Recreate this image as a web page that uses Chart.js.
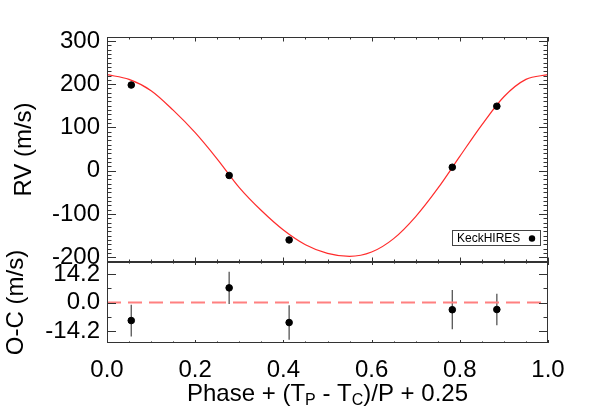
<!doctype html>
<html lang="en">
<head>
<meta charset="UTF-8">
<title>RV phase curve</title>
<script src="https://cdn.jsdelivr.net/npm/chart.js"></script>
<style>
  html, body { margin: 0; padding: 0; background: #fff; }
  .wrap { position: relative; width: 592px; height: 411px; }
  .wrap canvas { position: absolute; left: 0; top: 0; }
</style>
</head>
<body>
<div class="wrap">
  <canvas id="rv" width="592" height="411"></canvas>
  <canvas id="oc" width="592" height="411"></canvas>
</div>
<script>
// data
const seriesName = 'KeckHIRES';
const phase = [0.055, 0.277, 0.413, 0.783, 0.884];
const rv = [198, -11, -160, 8, 149];
const resid = [-9.0, 7.3, -10.0, -3.6, -3.5];
const residErr = [7.9, 8.0, 8.6, 9.8, 7.9];

// fitted orbit, read at every 0.05 in phase
const curvePhase = [0, 0.05, 0.10, 0.15, 0.20, 0.25, 0.30, 0.35, 0.40, 0.45, 0.50,
                    0.55, 0.60, 0.65, 0.70, 0.75, 0.80, 0.85, 0.90, 0.95, 1.0];
const curveRV = [222, 211, 185, 140, 88, 27, -39, -92, -137, -171, -191,
                 -198, -188, -157, -106, -41, 33, 106, 171, 211, 222];

const phaseTicks = [0.0, 0.2, 0.4, 0.6, 0.8, 1.0];
const rvTicks = [-200, -100, 0, 100, 200, 300];
const ocTicks = [-14.2, 0.0, 14.2];

const FONT = "'Liberation Sans', Arial, sans-serif";
const tickFont = { family: FONT, size: 24 };

// IDL-style box with inward tick marks
function boxTicks(o) {
  return {
    id: 'boxTicks',
    afterDraw(chart) {
      const { ctx, chartArea: a } = chart;
      const x = chart.scales.x, y = chart.scales.y;
      const L = Math.round(a.left), R = Math.round(a.right);
      const T = Math.round(a.top), B = Math.round(a.bottom);
      ctx.save();
      ctx.fillStyle = '#333';
      ctx.fillRect(L, T, R - L, 1);
      ctx.fillRect(L, B - 1, R - L, 1);
      ctx.fillRect(L, T, 1, B - T);
      ctx.fillRect(R - 1, T, 1, B - T);
      for (let i = 0; i <= 20; i++) {
        const px = Math.round(x.getPixelForValue(i * 0.05));
        const len = i % 4 === 0 ? o.xMajor : o.xMinor;
        ctx.fillRect(px, T, 1, len);
        ctx.fillRect(px, B - len, 1, len);
      }
      o.yTicks.forEach((v, i) => {
        const py = Math.round(y.getPixelForValue(v));
        const len = o.isMajor(v, i) ? o.yMajor : o.yMinor;
        ctx.fillRect(L, py, len, 1);
        ctx.fillRect(R - len, py, len, 1);
      });
      ctx.restore();
    }
  };
}

const rvMinor = [];
for (let v = -210; v <= 300; v += 10) rvMinor.push(v);

const legendBox = {
  id: 'legendBox',
  afterDraw(chart) {
    const ctx = chart.ctx;
    ctx.save();
    ctx.strokeStyle = '#444';
    ctx.lineWidth = 1;
    ctx.strokeRect(452.5, 230.5, 88, 15);
    ctx.fillStyle = '#000';
    ctx.font = '12px ' + FONT;
    ctx.textBaseline = 'middle';
    ctx.fillText(seriesName, 457, 238.5);
    ctx.beginPath();
    ctx.arc(532, 238.5, 3.2, 0, Math.PI * 2);
    ctx.fill();
    ctx.restore();
  }
};

new Chart(document.getElementById('rv'), {
  type: 'scatter',
  data: {
    datasets: [{
      type: 'line',
      data: curvePhase.map((p, i) => ({ x: p, y: curveRV[i] })),
      borderColor: 'rgba(255,20,20,0.9)',
      borderWidth: 1.2,
      pointRadius: 0,
      cubicInterpolationMode: 'monotone',
      order: 2
    }, {
      label: seriesName,
      data: phase.map((p, i) => ({ x: p, y: rv[i] })),
      backgroundColor: '#000',
      borderColor: '#000',
      pointRadius: 3.3,
      order: 1
    }]
  },
  options: {
    responsive: false,
    animation: false,
    layout: { padding: { left: 0, right: 44, top: 37, bottom: 149 } },
    plugins: { legend: { display: false }, tooltip: { enabled: false } },
    scales: {
      x: { type: 'linear', min: 0, max: 1, display: false },
      y: {
        min: -211, max: 309,
        grid: { display: false, drawTicks: false },
        border: { display: false },
        afterBuildTicks: s => { s.ticks = rvTicks.map(v => ({ value: v })); },
        ticks: { font: tickFont, color: '#000', padding: 7 },
        afterFit: s => { s.width = 107; }
      }
    }
  },
  plugins: [boxTicks({
    xMajor: 4.5, xMinor: 2.5, yMajor: 9, yMinor: 4.5,
    yTicks: rvMinor, isMajor: v => v % 100 === 0
  }), legendBox]
});

const errorBars = {
  id: 'errorBars',
  beforeDatasetsDraw(chart) {
    const { ctx, scales: { x, y } } = chart;
    ctx.save();
    ctx.strokeStyle = '#555';
    ctx.lineWidth = 1.3;
    ctx.beginPath();
    phase.forEach((p, i) => {
      const px = x.getPixelForValue(p);
      ctx.moveTo(px, y.getPixelForValue(resid[i] + residErr[i]));
      ctx.lineTo(px, y.getPixelForValue(resid[i] - residErr[i]));
    });
    ctx.stroke();
    ctx.restore();
  }
};

const titles = {
  id: 'titles',
  afterDraw(chart) {
    const ctx = chart.ctx;
    ctx.save();
    ctx.fillStyle = '#000';
    ctx.font = '24px ' + FONT;
    ctx.textAlign = 'center';
    ctx.textBaseline = 'middle';
    [['RV (m/s)', 24, 149.5], ['O-C (m/s)', 16, 302.5]].forEach(([t, cx, cy]) => {
      ctx.save();
      ctx.translate(cx, cy);
      ctx.rotate(-Math.PI / 2);
      ctx.fillText(t, 0, 0);
      ctx.restore();
    });
    // x title with subscripts
    const parts = [['Phase + (T', 0], ['P', 1], [' - T', 0], ['C', 1], [')/P + 0.25', 0]];
    const big = '24px ' + FONT, small = '16px ' + FONT;
    let w = 0;
    parts.forEach(([t, sub]) => { ctx.font = sub ? small : big; w += ctx.measureText(t).width; });
    let xx = (chart.chartArea.left + chart.chartArea.right) / 2 - w / 2;
    ctx.textAlign = 'left';
    ctx.textBaseline = 'alphabetic';
    parts.forEach(([t, sub]) => {
      ctx.font = sub ? small : big;
      ctx.fillText(t, xx, sub ? 405 : 401);
      xx += ctx.measureText(t).width;
    });
    ctx.restore();
  }
};

new Chart(document.getElementById('oc'), {
  type: 'scatter',
  data: {
    datasets: [{
      type: 'line',
      data: [{ x: 0, y: 0 }, { x: 1, y: 0 }],
      borderColor: '#ff8080',
      borderWidth: 2,
      borderDash: [14, 7],
      pointRadius: 0,
      order: 2
    }, {
      data: phase.map((p, i) => ({ x: p, y: resid[i] })),
      backgroundColor: '#000',
      borderColor: '#000',
      pointRadius: 3.3,
      order: 1
    }]
  },
  options: {
    responsive: false,
    animation: false,
    layout: { padding: { left: 0, right: 44, top: 262, bottom: 0 } },
    plugins: { legend: { display: false }, tooltip: { enabled: false } },
    scales: {
      x: {
        type: 'linear', min: 0, max: 1,
        grid: { display: false, drawTicks: false },
        border: { display: false },
        afterBuildTicks: s => { s.ticks = phaseTicks.map(v => ({ value: v })); },
        ticks: { font: tickFont, color: '#000', padding: 13, maxRotation: 0, autoSkip: false,
                 callback: v => v.toFixed(1) },
        afterFit: s => { s.height = 68; }
      },
      y: {
        min: -20.2, max: 20.2,
        grid: { display: false, drawTicks: false },
        border: { display: false },
        afterBuildTicks: s => { s.ticks = ocTicks.map(v => ({ value: v })); },
        ticks: { font: tickFont, color: '#000', padding: 7, callback: v => v.toFixed(1) },
        afterFit: s => { s.width = 107; }
      }
    }
  },
  plugins: [errorBars, boxTicks({
    xMajor: 3, xMinor: 1.6, yMajor: 9, yMinor: 4.5,
    yTicks: [-14.2, -7.1, 0, 7.1, 14.2], isMajor: (v, i) => i % 2 === 0
  }), titles]
});
</script>
</body>
</html>
